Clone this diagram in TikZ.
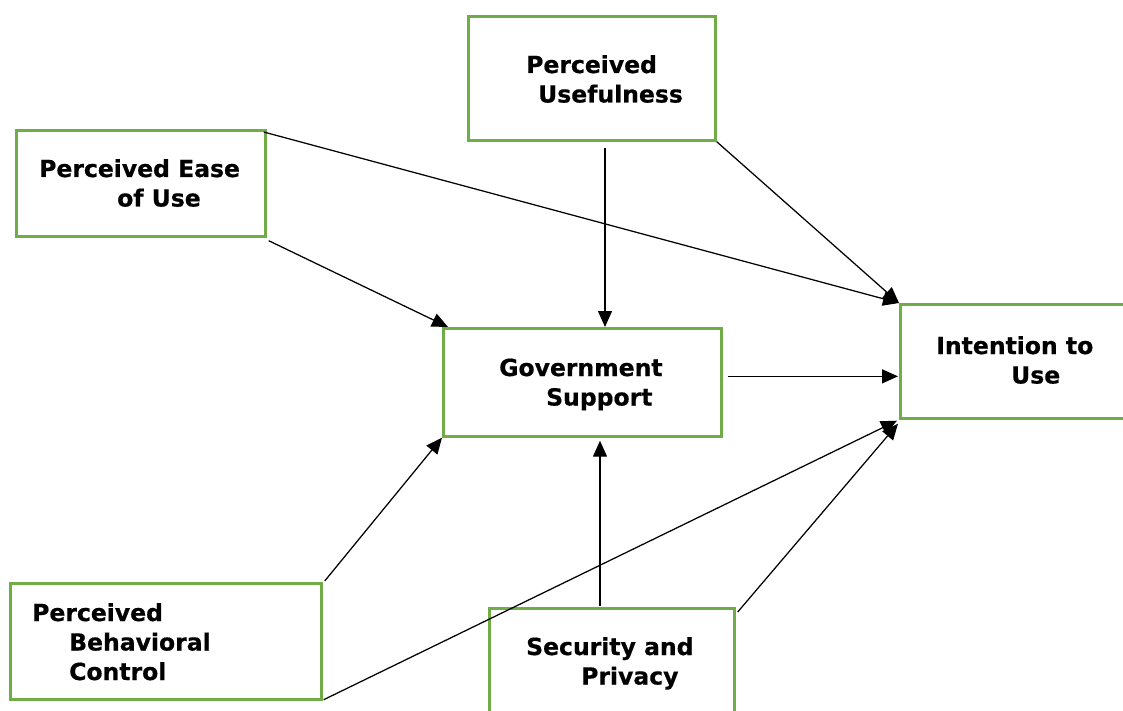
\documentclass[tikz,border=0pt]{standalone}
\usepackage{fontspec}
\setmainfont{DejaVu Sans}
\newfontfamily\lblfont{DejaVu Sans Bold}[FakeBold=0.6]
\usetikzlibrary{arrows.meta,calc}
\definecolor{boxgreen}{RGB}{112,173,71}
\begin{document}
\begin{tikzpicture}[x=1pt,y=-1pt,
  box/.style={draw=boxgreen,line width=2.7pt,anchor=north west,inner sep=0pt},
  lbl/.style={anchor=base west,inner sep=0pt,font=\fontsize{23.5}{29.5}\selectfont\lblfont},
  arr/.style={line width=1.25pt,-{Triangle[length=16pt,width=14pt]}}]
\useasboundingbox (0,0) rectangle (1123,711);
\clip (0,0) rectangle (1123,711);
% boxes
\node[box,minimum width=247pt,minimum height=124pt] (pu) at (467,15) {};
\node[box,minimum width=249pt,minimum height=106pt] (peou) at (15,129) {};
\node[box,minimum width=278pt,minimum height=108pt] (gs) at (442,327) {};
\node[box,minimum width=260pt,minimum height=114pt] (iu) at (899,303) {};
\node[box,minimum width=311pt,minimum height=116pt] (pbc) at (9,582) {};
\node[box,minimum width=245pt,minimum height=130pt] (sp) at (488,607) {};
% labels
\node[lbl] (tpu) at (526,73) {\begin{tabular}[t]{@{}l@{}}Perceived\\\hspace*{12pt}Usefulness\end{tabular}};
\node[lbl] (tpeou) at (39,177) {\begin{tabular}[t]{@{}l@{}}Perceived Ease\\\hspace*{78pt}of Use\end{tabular}};
\node[lbl] (tgs) at (499,376) {\begin{tabular}[t]{@{}l@{}}Government\\\hspace*{47pt}Support\end{tabular}};
\node[lbl] (tiu) at (936,354) {\begin{tabular}[t]{@{}l@{}}Intention to\\\hspace*{75pt}Use\end{tabular}};
\node[lbl] (tpbc) at (32,621) {\begin{tabular}[t]{@{}l@{}}Perceived\\\hspace*{37pt}Behavioral\\\hspace*{37pt}Control\end{tabular}};
\node[lbl] (tsp) at (526,655) {\begin{tabular}[t]{@{}l@{}}Security and\\\hspace*{55pt}Privacy\end{tabular}};
% connectors
\draw[arr] ($(peou.north east)+(-3,3)$) -- (iu.north west);
\draw[arr] (pu.south east) -- (iu.north west);
\draw[arr] ($(pu.south west)+(138,6)$) -- ($(gs.north west)+(163,0)$);
\draw[arr] ($(peou.south east)+(2,3)$) -- ($(gs.north west)+(6,0)$);
\draw[arr] ($(gs.east)+(5,-6)$) -- ($(iu.west)+(-1,15)$);
\draw[arr] ($(pbc.north east)+(2,-1)$) -- (gs.south west);
\draw[arr] ($(sp.north west)+(112,-1)$) -- ($(gs.south west)+(158,3)$);
\draw[arr] ($(pbc.south east)+(1,-1)$) -- ($(iu.south west)+(-2,1)$);
\draw[arr] ($(sp.north east)+(2,5)$) -- ($(iu.south west)+(-1,4)$);
\end{tikzpicture}
\end{document}
